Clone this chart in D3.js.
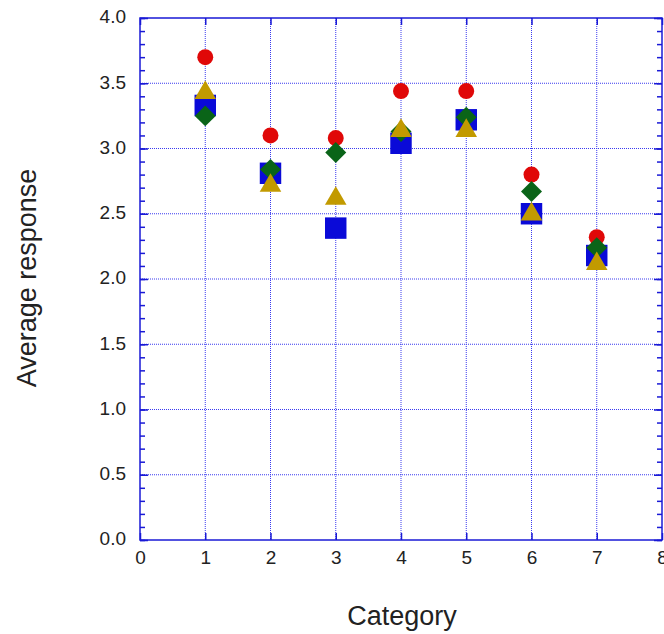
<!DOCTYPE html>
<html>
<head>
<meta charset="utf-8">
<script src="https://cdn.jsdelivr.net/npm/d3@7"></script>
<style>
  html, body { margin: 0; padding: 0; background: #fff; }
  svg { display: block; }
  text { font-family: "Liberation Sans", Arial, sans-serif; fill: #222; }
</style>
</head>
<body>
<svg id="chart" width="664" height="634"></svg>
<script>
// Average response per category, four groups
const categories = [1, 2, 3, 4, 5, 6, 7];
const redCircle   = [3.70, 3.10, 3.08, 3.44, 3.44, 2.80, 2.32];
const blueSquare  = [3.33, 2.81, 2.39, 3.04, 3.22, 2.50, 2.18];
const greenDiamond= [3.25, 2.84, 2.97, 3.13, 3.24, 2.67, 2.24];
const goldTriangle= [3.45, 2.74, 2.64, 3.16, 3.16, 2.52, 2.14];

const xTicks = [0, 1, 2, 3, 4, 5, 6, 7, 8];
const yTicks = [0, 0.5, 1, 1.5, 2, 2.5, 3, 3.5, 4];

const svg = d3.select("#chart");
const plotLeft = 140, plotRight = 662, plotTop = 18, plotBottom = 540;
const frameColor = "#1a1ad6";

const x = d3.scaleLinear().domain([0, 8]).range([plotLeft, plotRight]);
const y = d3.scaleLinear().domain([0, 4]).range([plotBottom, plotTop]);

// dotted grid
const grid = svg.append("g");
grid.selectAll("line.gx").data(xTicks.slice(1, -1)).join("line")
  .attr("x1", d => x(d)).attr("x2", d => x(d))
  .attr("y1", plotTop).attr("y2", plotBottom)
  .attr("stroke", "#3a3af0").attr("stroke-width", 1).attr("stroke-dasharray", "1,1");
grid.selectAll("line.gy").data(yTicks.slice(1, -1)).join("line")
  .attr("x1", plotLeft).attr("x2", plotRight)
  .attr("y1", d => y(d)).attr("y2", d => y(d))
  .attr("stroke", "#3a3af0").attr("stroke-width", 1).attr("stroke-dasharray", "1,1");

// axes with inward ticks on all four sides
const minorY = d3.range(0, 41).map(i => i / 10);
const axisStyle = g => {
  g.select(".domain").remove();
  g.selectAll(".tick line").attr("stroke", frameColor).attr("stroke-width", 1.5);
  g.selectAll(".tick text").attr("font-size", 19).attr("fill", "#222")
    .style("font-family", "'Liberation Sans', Arial, sans-serif");
};

svg.append("g").attr("transform", `translate(0,${plotBottom})`)
  .call(d3.axisBottom(x).tickValues(xTicks).tickFormat(d3.format("d")).tickSizeInner(-7).tickSizeOuter(0).tickPadding(11))
  .call(axisStyle);
svg.append("g").attr("transform", `translate(0,${plotTop})`)
  .call(d3.axisTop(x).tickValues(xTicks).tickFormat("").tickSizeInner(-7).tickSizeOuter(0))
  .call(axisStyle);
svg.append("g").attr("transform", `translate(${plotLeft},0)`)
  .call(d3.axisLeft(y).tickValues(yTicks).tickFormat(d3.format(".1f")).tickSizeInner(-8).tickSizeOuter(0).tickPadding(14))
  .call(axisStyle)
  .call(g => g.selectAll(".tick text").attr("dy", "0.25em"));
svg.append("g").attr("transform", `translate(${plotLeft},0)`)
  .call(d3.axisLeft(y).tickValues(minorY).tickFormat("").tickSizeInner(-5).tickSizeOuter(0))
  .call(axisStyle);
svg.append("g").attr("transform", `translate(${plotRight},0)`)
  .call(d3.axisRight(y).tickValues(minorY).tickFormat("").tickSizeInner(-5).tickSizeOuter(0))
  .call(axisStyle);
svg.append("g").attr("transform", `translate(${plotRight},0)`)
  .call(d3.axisRight(y).tickValues(yTicks).tickFormat("").tickSizeInner(-8).tickSizeOuter(0))
  .call(axisStyle);

// plot frame
svg.append("rect").attr("x", plotLeft).attr("y", plotTop)
  .attr("width", plotRight - plotLeft).attr("height", plotBottom - plotTop)
  .attr("fill", "none").attr("stroke", frameColor).attr("stroke-width", 1.5);

// upward triangle centred on its bounding box
const boxTriangle = {
  draw(ctx, size) {
    const w = Math.sqrt(size / 0.43);
    const h = 0.86 * w;
    ctx.moveTo(0, -h / 2);
    ctx.lineTo(w / 2, h / 2);
    ctx.lineTo(-w / 2, h / 2);
    ctx.closePath();
  }
};

// markers
const series = [
  { values: redCircle,    shape: d3.symbolCircle,   size: 200, color: "#e00808" },
  { values: blueSquare,   shape: d3.symbolSquare,   size: 460, color: "#0a0ad8" },
  { values: greenDiamond, shape: d3.symbolSquare,   size: 220, color: "#0a6418", rotate: 45 },
  { values: goldTriangle, shape: boxTriangle,       size: 200, color: "#c29a00" }
];
series.forEach(s => {
  const sym = d3.symbol().type(s.shape).size(s.size);
  svg.append("g").selectAll("path").data(categories).join("path")
    .attr("d", sym)
    .attr("transform", (d, i) => `translate(${x(d)},${y(s.values[i])})` + (s.rotate ? ` rotate(${s.rotate})` : ""))
    .attr("fill", s.color);
});

// axis titles
svg.append("text").attr("x", 402).attr("y", 625)
  .attr("text-anchor", "middle").attr("font-size", 27).text("Category");
svg.append("text").attr("transform", `translate(36,278) rotate(-90)`)
  .attr("text-anchor", "middle").attr("font-size", 27).text("Average response");
</script>
</body>
</html>
